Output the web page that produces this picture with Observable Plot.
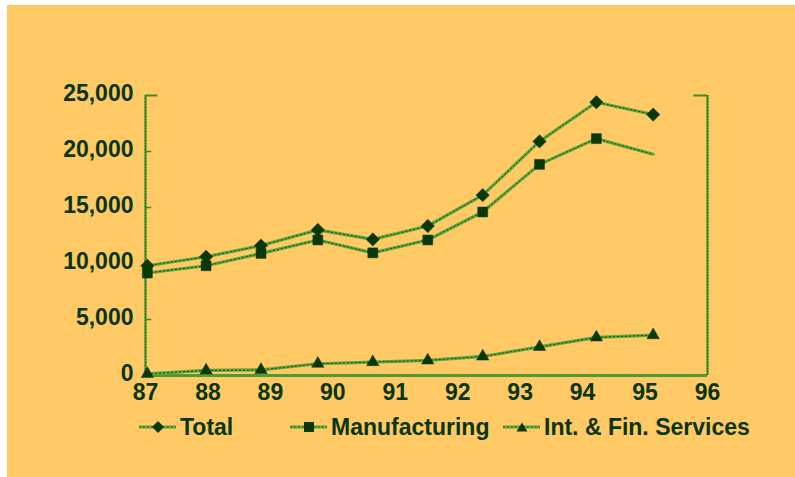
<!DOCTYPE html>
<html>
<head>
<meta charset="utf-8">
<script src="https://cdn.jsdelivr.net/npm/d3@7"></script>
<script src="https://cdn.jsdelivr.net/npm/@observablehq/plot@0.6"></script>
<style>
  html, body { margin: 0; padding: 0; background: #ffffff; }
  #page { position: relative; width: 795px; height: 477px; overflow: hidden; }
  #panel { position: absolute; left: 7px; top: 5px; right: 0; bottom: 0; background: #FFCA66; }
  #chart { position: absolute; left: 0; top: 0; }
  .legend-item { position: absolute; top: 414px; height: 26px; display: flex; align-items: center;
    font-family: "Liberation Sans", Arial, sans-serif; font-weight: bold; font-size: 23px; color: #09350a; }
  .legend-item svg { display: block; margin-right: 4px; }
</style>
</head>
<body>
<div id="page">
  <div id="panel"></div>
  <div id="chart"></div>
</div>
<script>
// Positions along the year axis (87–96) and the three employment series
const periods = [87.03, 87.97, 88.85, 89.76, 90.64, 91.52, 92.40, 93.31, 94.22, 95.13];
const total = [9800, 10600, 11600, 13000, 12150, 13350, 16100, 20900, 24400, 23300];
const manufacturing = [9150, 9800, 10900, 12100, 10950, 12100, 14600, 18850, 21150, 19750];
const intFinServices = [150, 450, 500, 1050, 1200, 1350, 1700, 2550, 3400, 3600];

const seriesNames = ["Total", "Manufacturing", "Int. & Fin. Services"];
const seriesSymbols = ["diamond2", "square", "triangle"];
const xTicks = [87, 88, 89, 90, 91, 92, 93, 94, 95, 96];
const yTicks = [0, 5000, 10000, 15000, 20000, 25000];

// The last manufacturing value is drawn as a line end without a marker
const manufacturingMarkers = [true, true, true, true, true, true, true, true, true, false];

const textColor = "#09350a";
const lineGreen = "#62a83c";
const darkGreen = "#1d4d14";
const markerFill = "#0a380b";
const fontFamily = "'Liberation Sans', Arial, sans-serif";

const values = [total, manufacturing, intFinServices];
const rows = [];
seriesNames.forEach((name, s) => {
  values[s].forEach((v, i) => {
    rows.push({series: name, x: periods[i], y: v, marked: s !== 1 || manufacturingMarkers[i]});
  });
});
const bySeries = name => rows.filter(d => d.series === name);
const markerRadius = {"Total": 6.0, "Manufacturing": 5.6, "Int. & Fin. Services": 4.6};

const lineMarks = seriesNames.flatMap(name => [
  Plot.line(bySeries(name), {x: "x", y: "y", stroke: lineGreen, strokeWidth: 3.2}),
  Plot.line(bySeries(name), {x: "x", y: "y", stroke: darkGreen, strokeWidth: 1, strokeDasharray: "1.5,2.5"})
]);
const dotMarks = seriesNames.map((name, s) =>
  Plot.dot(bySeries(name).filter(d => d.marked), {
    x: "x", y: "y", symbol: () => seriesSymbols[s], r: markerRadius[name],
    fill: markerFill, stroke: markerFill, strokeWidth: 0.5
  })
);

const x0 = xTicks[0], x1 = xTicks[xTicks.length - 1];
const yMax = yTicks[yTicks.length - 1];

const chart = Plot.plot({
  width: 795,
  height: 410,
  marginLeft: 145,
  marginRight: 88,
  marginTop: 95,
  marginBottom: 35,
  style: {background: "transparent", fontFamily, color: textColor, overflow: "visible"},
  x: {domain: [x0, x1]},
  y: {domain: [0, yMax]},
  symbol: {domain: seriesSymbols, range: seriesSymbols},
  marks: [
    // frame: left axis, right axis, baseline
    Plot.ruleX([x0, x1], {stroke: "#4f9a34", strokeWidth: 2.5}),
    Plot.ruleX([x0, x1], {stroke: darkGreen, strokeWidth: 1, strokeDasharray: "1,2"}),
    Plot.ruleY([0], {stroke: "#4f9a34", strokeWidth: 2.8}),
    // inward ticks on the value axis
    Plot.ruleY(yTicks.slice(1, -1), {x1: x0, x2: x0 + 0.1, stroke: "#3f8a2a", strokeWidth: 1.5}),
    Plot.ruleY([yMax], {x1: x0, x2: x0 + 0.2, stroke: "#3f8a2a", strokeWidth: 2}),
    Plot.ruleY([yMax], {x1: x1 - 0.22, x2: x1, stroke: "#3f8a2a", strokeWidth: 2}),
    Plot.axisY(yTicks, {
      tickSize: 0, tickPadding: 12, dy: -2, tickFormat: d3.format(","),
      fontSize: 23, fontWeight: "bold", fill: textColor, label: null
    }),
    Plot.axisX(xTicks, {
      tickSize: 0, tickPadding: 8, tickFormat: d => String(d),
      fontSize: 23, fontWeight: "bold", fill: textColor, label: null
    }),
    ...lineMarks,
    ...dotMarks
  ]
});
document.getElementById("chart").appendChild(chart);

// Legend below the plot
const legendLeft = [139, 290, 503];
const legendPaths = [
  '<path d="M13,10 L19,4 L25,10 L19,16 Z"/>',
  '<rect x="14" y="5" width="10" height="10"/>',
  '<path d="M13.5,14.5 L19,5.5 L24.5,14.5 Z"/>'
];
const page = document.getElementById("page");
seriesNames.forEach((name, s) => {
  const item = document.createElement("div");
  item.className = "legend-item";
  item.style.left = legendLeft[s] + "px";
  item.innerHTML =
    `<svg width="37" height="20" viewBox="0 0 37 20">
       <line x1="0" y1="10" x2="37" y2="10" stroke="${lineGreen}" stroke-width="3"/>
       <line x1="0" y1="10" x2="37" y2="10" stroke="${darkGreen}" stroke-width="1" stroke-dasharray="1.5,2.5"/>
       <g fill="${markerFill}">${legendPaths[s]}</g>
     </svg><span>${name}</span>`;
  page.appendChild(item);
});
</script>
</body>
</html>
